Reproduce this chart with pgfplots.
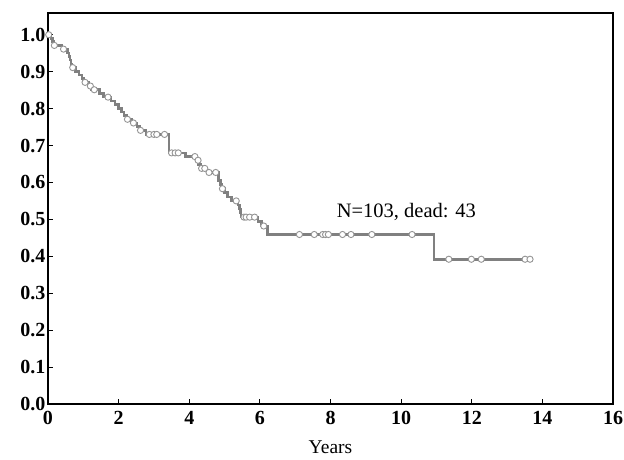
\documentclass[border=0pt]{standalone}
\usepackage{fontspec}
\setmainfont{Liberation Serif}
\usepackage{pgfplots}
\pgfplotsset{compat=1.18}

\definecolor{kmline}{gray}{0.50}
\definecolor{kmmark}{gray}{0.58}

\begin{document}
\begin{tikzpicture}
\path[use as bounding box] (-48pt,-55pt) rectangle (576pt,404pt);
\begin{axis}[
  at={(0,0)}, anchor=south west, scale only axis,
  width=565pt, height=391pt,
  xmin=0, xmax=16, ymin=0, ymax=1.0588,
  xtick={0,2,4,6,8,10,12,14,16},
  ytick={0,0.1,0.2,0.3,0.4,0.5,0.6,0.7,0.8,0.9,1.0},
  yticklabels={0.0,0.1,0.2,0.3,0.4,0.5,0.6,0.7,0.8,0.9,1.0},
  xtick pos=left, ytick pos=left,
  tick align=inside, major tick length=5pt,
  axis line style={line width=1.2pt},
  tick style={black, line width=0.8pt},
  ticklabel style={font=\fontsize{20}{23}\selectfont\bfseries},
  xticklabel style={yshift=-4pt},
  yticklabel style={xshift=1pt},
  /pgf/number format/assume math mode=true,
  xlabel={Years},
  xlabel style={font=\fontsize{19.5}{22}\selectfont, yshift=-9pt},
  clip=false,
]
% Kaplan-Meier survival estimate (value after each event)
\addplot[const plot, kmline, line width=2.6pt] coordinates {
(0,1.000) (0.08,0.990) (0.12,0.981) (0.16,0.971) (0.40,0.961)
(0.55,0.951) (0.59,0.941) (0.62,0.931) (0.65,0.921) (0.68,0.911)
(0.78,0.901) (0.88,0.891) (0.96,0.881) (1.00,0.871) (1.15,0.861)
(1.24,0.851) (1.45,0.841) (1.58,0.831) (1.78,0.821) (1.90,0.811)
(2.00,0.801) (2.08,0.791) (2.15,0.781) (2.22,0.771) (2.36,0.761)
(2.52,0.751) (2.60,0.741) (2.78,0.730) (3.43,0.680) (3.90,0.670)
(4.20,0.660) (4.27,0.649) (4.32,0.638) (4.50,0.627) (4.82,0.605)
(4.88,0.594) (4.92,0.583) (5.00,0.572) (5.08,0.561) (5.20,0.550)
(5.38,0.539) (5.42,0.528) (5.45,0.517) (5.47,0.506) (5.95,0.494)
(6.05,0.482) (6.21,0.459) (10.93,0.392) (13.65,0.392)
};
% censored observations
\addplot[only marks, mark=*, mark size=3.1pt,
  mark options={fill=white, draw=kmmark, line width=0.9pt}] coordinates {
(0.02,1.000) (0.18,0.971) (0.44,0.961) (0.70,0.911) (1.05,0.871)
(1.20,0.861) (1.31,0.851) (1.70,0.831) (2.25,0.771) (2.42,0.761)
(2.62,0.741) (2.87,0.730) (3.00,0.730) (3.08,0.730) (3.30,0.730)
(3.50,0.680) (3.60,0.680) (3.69,0.680) (4.16,0.670) (4.25,0.660)
(4.35,0.638) (4.44,0.638) (4.56,0.627) (4.75,0.627) (4.94,0.583)
(5.33,0.550) (5.55,0.506) (5.61,0.506) (5.71,0.506) (5.85,0.506)
(6.11,0.482) (7.12,0.459) (7.54,0.459) (7.78,0.459) (7.86,0.459)
(7.94,0.459) (8.34,0.459) (8.58,0.459) (9.17,0.459) (10.31,0.459)
(11.35,0.392) (11.99,0.392) (12.27,0.392) (13.51,0.392) (13.65,0.392)
};
\node[anchor=base, font=\fontsize{20.5}{24}\selectfont] at (axis cs:10.15,0.505) {N=103, dead: 43};
\end{axis}
\end{tikzpicture}
\end{document}
